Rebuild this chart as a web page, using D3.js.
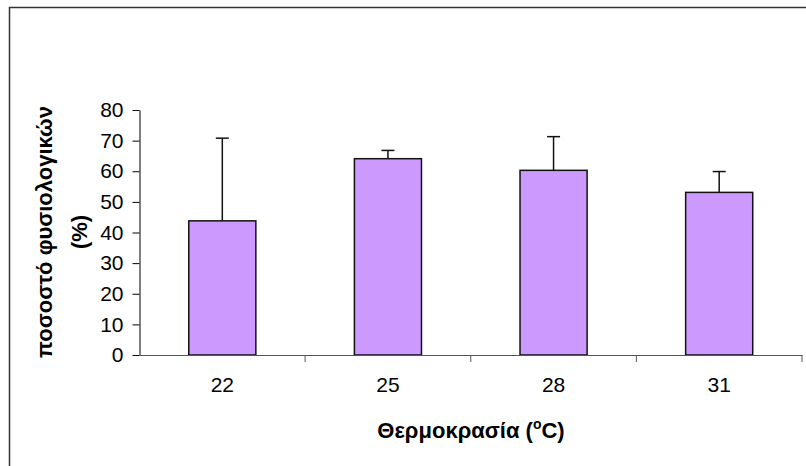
<!DOCTYPE html>
<html><head><meta charset="utf-8">
<script src="https://cdn.jsdelivr.net/npm/d3@7/dist/d3.min.js"></script>
<style>body{margin:0;background:#fff}svg{display:block}</style>
</head><body>
<svg id="c" width="806" height="466"></svg>
<script>
const categories = ["22", "25", "28", "31"];
const values = [43.8, 64.1, 60.3, 53.1];
const errors = [27.0, 2.7, 11.0, 6.8];
const yTicks = [0, 10, 20, 30, 40, 50, 60, 70, 80];

(function () {
const svg = d3.select("#c");
const font = "'Liberation Sans', Arial, sans-serif";
// outer frame (clipped on right/bottom)
svg.append("path").attr("d", "M9.5,470 V7.5 H810").attr("fill", "none").attr("stroke", "#333").attr("stroke-width", 1.5);

const pLeft = 139.5, pRight = 802, pTop = 110, pBottom = 355;
const x = d3.scaleBand().domain(categories).range([pLeft, pRight]).paddingInner(0).paddingOuter(0);
const y = d3.scaleLinear().domain([0, 80]).range([pBottom, pTop]);

// bars
const bw = x.bandwidth() * 0.405;
const g = svg.append("g");
g.selectAll("rect.bar").data(categories).enter().append("rect")
  .attr("x", (d) => x(d) + x.bandwidth() / 2 - bw / 2)
  .attr("y", (d, i) => y(values[i]))
  .attr("width", bw)
  .attr("height", (d, i) => y(0) - y(values[i]))
  .attr("fill", "#CC99FF").attr("stroke", "#111").attr("stroke-width", 1.5);

// error bars
categories.forEach((d, i) => {
  const cx = x(d) + x.bandwidth() / 2;
  g.append("line").attr("x1", cx).attr("x2", cx).attr("y1", y(values[i])).attr("y2", y(values[i] + errors[i]))
    .attr("stroke", "#111").attr("stroke-width", 1.5);
  g.append("line").attr("x1", cx - 6.5).attr("x2", cx + 6.5).attr("y1", y(values[i] + errors[i])).attr("y2", y(values[i] + errors[i]))
    .attr("stroke", "#111").attr("stroke-width", 1.5);
});

// y axis
const ya = svg.append("g").attr("transform", `translate(${pLeft},0)`)
  .call(d3.axisLeft(y).tickValues(yTicks).tickSize(7).tickPadding(9).tickSizeOuter(0));
ya.select(".domain").attr("stroke", "#000");
ya.selectAll(".tick line").attr("stroke", "#000");
ya.selectAll("text").attr("font-family", font).attr("font-size", 21).attr("fill", "#000");

// x axis
const xa = svg.append("g").attr("transform", `translate(0,${pBottom})`)
  .call(d3.axisBottom(x).tickSize(0).tickPadding(22));
xa.select(".domain").attr("stroke", "#555");
xa.selectAll("text").attr("font-family", font).attr("font-size", 21).attr("fill", "#000");
// boundary ticks
const bounds = categories.map((d) => x(d) + x.bandwidth());
xa.selectAll("line.bt").data(bounds).enter().append("line").attr("class", "bt")
  .attr("x1", (d) => d).attr("x2", (d) => d).attr("y1", 0).attr("y2", 7).attr("stroke", "#555");

// x title
const xt = svg.append("text").attr("x", 471).attr("y", 438).attr("text-anchor", "middle")
  .attr("font-family", font).attr("font-size", 22).attr("font-weight", "bold").attr("fill", "#000");
xt.append("tspan").text("Θερμοκρασία (");
xt.append("tspan").text("o").attr("font-size", 14).attr("dy", -9);
xt.append("tspan").text("C)").attr("dy", 9);

// y title
const yt = svg.append("text").attr("transform", "translate(0,232) rotate(-90)").attr("text-anchor", "middle")
  .attr("font-family", font).attr("font-size", 22).attr("font-weight", "bold").attr("fill", "#000");
yt.append("tspan").attr("x", 0).attr("y", 52).text("ποσοστό φυσιολογικών");
yt.append("tspan").attr("x", 0).attr("y", 87).text("(%)");
})();
</script>
</body></html>
